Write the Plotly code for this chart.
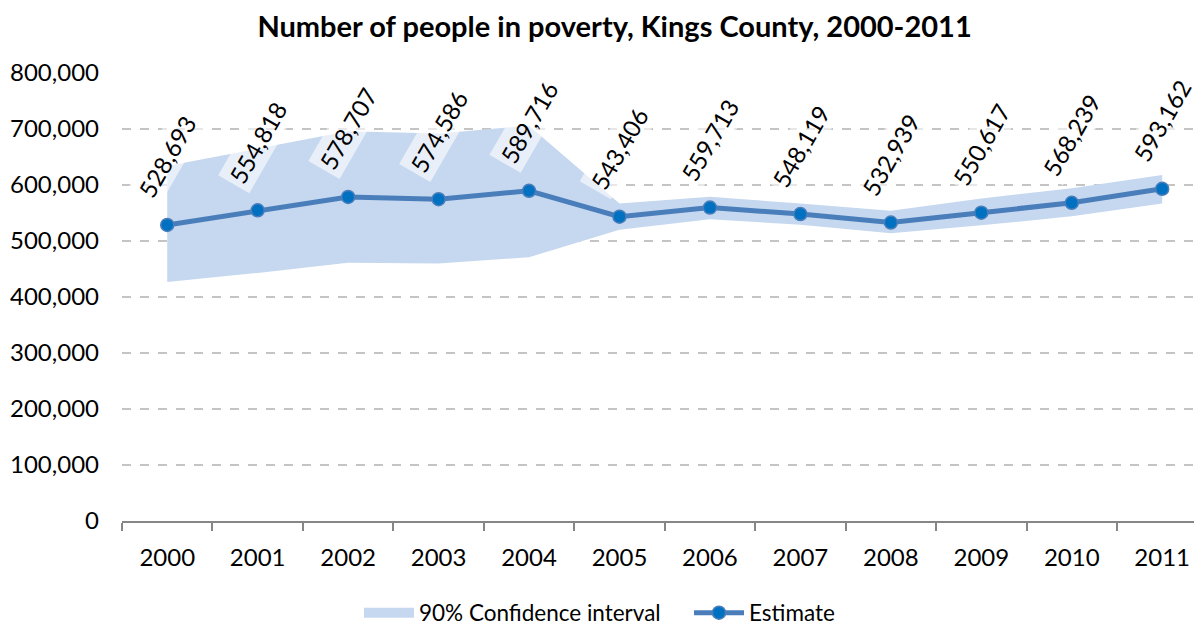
import plotly.graph_objects as go

years = ["2000", "2001", "2002", "2003", "2004", "2005", "2006", "2007", "2008", "2009", "2010", "2011"]
estimate = [528693, 554818, 578707, 574586, 589716, 543406, 559713, 548119, 532939, 550617, 568239, 593162]
ci_upper = [634000, 665000, 696000, 692000, 706000, 567000, 579000, 567000, 554000, 576000, 594000, 618000]
ci_lower = [427000, 443000, 461000, 460000, 471000, 520000, 539000, 529000, 514000, 528000, 544000, 567000]
y_ticks = [0, 100000, 200000, 300000, 400000, 500000, 600000, 700000, 800000]

FONT = "Lato"
BAND = "#C6D8EF"
LINE = "#4A7EBB"
MARK = "#0070C0"

fig = go.Figure()
fig.add_trace(go.Scatter(x=years, y=ci_lower, mode="lines", line=dict(width=0, color=BAND),
                         showlegend=False, hoverinfo="skip"))
fig.add_trace(go.Scatter(x=years, y=ci_upper, mode="lines", line=dict(width=0, color=BAND),
                         fill="tonexty", fillcolor=BAND, name="90% Confidence interval",
                         showlegend=False))
# legend entry for the band
fig.add_trace(go.Scatter(x=[None], y=[None], mode="lines", line=dict(color=BAND, width=13),
                         name="90% Confidence interval", legendrank=1))
fig.add_trace(go.Scatter(x=years, y=estimate, mode="lines+markers", name="Estimate", legendrank=2,
                         line=dict(color=LINE, width=5),
                         marker=dict(size=13, color=MARK, line=dict(color=LINE, width=1.5))))

for i, v in enumerate(estimate):
    fig.add_annotation(x=i, y=v, xref="x", yref="y", text=f"{v:,}", showarrow=False, yshift=68,
                       textangle=-60, bgcolor="rgba(255,255,255,0.6)", borderpad=3,
                       font=dict(family=FONT, size=24, color="black"))

fig.update_layout(
    width=1194, height=619,
    margin=dict(l=114, r=0, t=65, b=106, autoexpand=False),
    paper_bgcolor="white", plot_bgcolor="white",
    font=dict(family=FONT, size=24, color="black"),
    title=dict(text="<b>Number of people in poverty, Kings County, 2000-2011</b>",
               x=0.508, xref="container", xanchor="center", y=0.97, yref="container", yanchor="middle",
               font=dict(family=FONT, size=29, color="black")),
    legend=dict(orientation="h", x=351 / 1194, xref="container", xanchor="left",
                y=0.0226, yref="container", yanchor="middle", traceorder="normal",
                font=dict(family=FONT, size=22.5), itemwidth=50, tracegroupgap=0,
                entrywidth=265),
    showlegend=True,
)
fig.update_xaxes(type="category", range=[-0.5, 11.44], tickson="boundaries", ticks="outside",
                 ticklen=8, tickwidth=1.5, tickcolor="#868686", showline=True, linecolor="#868686",
                 linewidth=1.5, showgrid=False, ticklabelstandoff=14)
fig.update_yaxes(range=[0, 800000], tickvals=y_ticks, tickformat=",", showgrid=True,
                 gridcolor="#C4C4C4", griddash="dash", gridwidth=1.5, zeroline=False,
                 showline=False, ticks="", ticklabelstandoff=22)

fig.write_html("out.html")
